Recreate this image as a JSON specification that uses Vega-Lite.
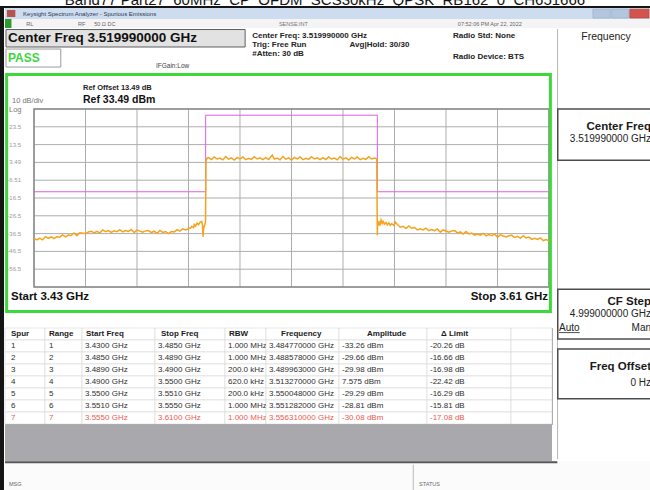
{
"$schema": "https://vega.github.io/schema/vega-lite/v6.json",
"padding": 0,
"background": "#ffffff",
"spacing": 0,
"config": {
  "font": "Liberation Sans",
  "view": {"stroke": null},
  "axis": {"disable": true},
  "legend": {"disable": true},
  "concat": {"spacing": 0},
  "text": {"baseline": "middle", "align": "left", "font": "Liberation Sans"}
},
"datasets": {
  "trace": [
    {"f":3.430,"db":-39.1},{"f":3.431,"db":-40.05},{"f":3.432,"db":-39.1},{"f":3.433,"db":-40.05},{"f":3.434,"db":-38.2},
    {"f":3.435,"db":-39.15},{"f":3.436,"db":-38.4},{"f":3.437,"db":-39.28},{"f":3.438,"db":-38.27},{"f":3.439,"db":-38.55},
    {"f":3.440,"db":-37.23},{"f":3.441,"db":-38.32},{"f":3.442,"db":-37.3},{"f":3.443,"db":-37.55},{"f":3.444,"db":-36.2},
    {"f":3.445,"db":-37.65},{"f":3.446,"db":-36.0},{"f":3.447,"db":-36.25},{"f":3.448,"db":-36.5},{"f":3.449,"db":-35.58},
    {"f":3.450,"db":-35.16},{"f":3.451,"db":-36.14},{"f":3.452,"db":-35.22},{"f":3.453,"db":-36.2},{"f":3.454,"db":-34.43},
    {"f":3.455,"db":-35.47},{"f":3.456,"db":-34.8},{"f":3.457,"db":-35.83},{"f":3.458,"db":-34.97},{"f":3.459,"db":-35.4},
    {"f":3.460,"db":-34.3},{"f":3.461,"db":-35.6},{"f":3.462,"db":-34.8},{"f":3.463,"db":-35.3},{"f":3.464,"db":-34.2},
    {"f":3.465,"db":-35.9},{"f":3.466,"db":-34.57},{"f":3.467,"db":-35.13},{"f":3.468,"db":-35.7},{"f":3.469,"db":-34.97},
    {"f":3.470,"db":-34.73},{"f":3.471,"db":-35.9},{"f":3.472,"db":-35.17},{"f":3.473,"db":-36.33},{"f":3.474,"db":-34.7},
    {"f":3.475,"db":-35.87},{"f":3.476,"db":-35.33},{"f":3.477,"db":-36.5},{"f":3.478,"db":-35.4},{"f":3.479,"db":-35.65},
    {"f":3.480,"db":-34.3},{"f":3.481,"db":-35.1},{"f":3.482,"db":-33.8},{"f":3.483,"db":-34.4},{"f":3.484,"db":-33.8},
    {"f":3.4848,"db":-33.26},{"f":3.4852,"db":-32.4},{"f":3.4858,"db":-33.1},{"f":3.486,"db":-31.4},{"f":3.4865,"db":-32.3},
    {"f":3.487,"db":-30.6},{"f":3.4875,"db":-31.5},{"f":3.488,"db":-30.2},{"f":3.4886,"db":-29.66},{"f":3.4889,"db":-31.8},
    {"f":3.4891,"db":-38.3},{"f":3.4893,"db":-33.5},{"f":3.48996,"db":-29.98},
    {"f":3.4901,"db":4.2},{"f":3.4905,"db":5.9},{"f":3.491,"db":6.2},{"f":3.492,"db":5.1},{"f":3.493,"db":6.6},
    {"f":3.494,"db":5.4},{"f":3.495,"db":5.9},{"f":3.496,"db":4.9},{"f":3.497,"db":6.8},{"f":3.498,"db":5.3},
    {"f":3.499,"db":6.0},{"f":3.500,"db":4.8},{"f":3.501,"db":6.3},{"f":3.502,"db":5.5},{"f":3.503,"db":6.5},
    {"f":3.504,"db":5.0},{"f":3.505,"db":5.8},{"f":3.506,"db":5.2},{"f":3.507,"db":6.7},{"f":3.508,"db":5.4},
    {"f":3.509,"db":6.1},{"f":3.510,"db":5.1},{"f":3.511,"db":6.2},{"f":3.512,"db":5.1},{"f":3.51327,"db":7.575},
    {"f":3.514,"db":5.4},{"f":3.515,"db":5.9},{"f":3.516,"db":4.9},{"f":3.517,"db":6.8},{"f":3.518,"db":5.3},
    {"f":3.519,"db":6.0},{"f":3.520,"db":4.8},{"f":3.521,"db":6.3},{"f":3.522,"db":5.5},{"f":3.523,"db":6.5},
    {"f":3.524,"db":5.0},{"f":3.525,"db":5.8},{"f":3.526,"db":5.2},{"f":3.527,"db":6.7},{"f":3.528,"db":5.4},
    {"f":3.529,"db":6.1},{"f":3.530,"db":5.1},{"f":3.531,"db":6.2},{"f":3.532,"db":5.1},{"f":3.533,"db":6.6},
    {"f":3.534,"db":5.4},{"f":3.535,"db":5.9},{"f":3.536,"db":4.9},{"f":3.537,"db":6.8},{"f":3.538,"db":5.3},
    {"f":3.539,"db":6.0},{"f":3.540,"db":4.8},{"f":3.541,"db":6.3},{"f":3.542,"db":5.5},{"f":3.543,"db":6.5},
    {"f":3.544,"db":5.0},{"f":3.545,"db":5.8},{"f":3.546,"db":5.2},{"f":3.547,"db":6.7},{"f":3.548,"db":5.4},
    {"f":3.549,"db":6.0},{"f":3.5498,"db":5.5},
    {"f":3.5500,"db":-37.5},{"f":3.55005,"db":-29.29},{"f":3.5503,"db":-31.5},{"f":3.5506,"db":-30.2},{"f":3.5509,"db":-32.0},
    {"f":3.5513,"db":-28.81},{"f":3.5517,"db":-30.8},{"f":3.552,"db":-29.6},{"f":3.5525,"db":-31.2},{"f":3.553,"db":-30.3},
    {"f":3.5535,"db":-31.6},{"f":3.554,"db":-30.5},{"f":3.5545,"db":-31.8},{"f":3.555,"db":-31.0},{"f":3.5558,"db":-31.9},
    {"f":3.5563,"db":-30.08},
    {"f":3.557,"db":-31.4},{"f":3.558,"db":-32.9},{"f":3.559,"db":-32.4},{"f":3.560,"db":-33.7},{"f":3.561,"db":-32.2},
    {"f":3.562,"db":-33.5},{"f":3.563,"db":-33.1},{"f":3.564,"db":-34.4},{"f":3.565,"db":-33.8},{"f":3.566,"db":-34.4},
    {"f":3.567,"db":-33.45},{"f":3.568,"db":-34.9},{"f":3.569,"db":-34.2},{"f":3.570,"db":-34.85},{"f":3.571,"db":-33.9},
    {"f":3.572,"db":-35.7},{"f":3.573,"db":-34.45},{"f":3.574,"db":-35.05},{"f":3.575,"db":-35.7},{"f":3.576,"db":-35.0},
    {"f":3.577,"db":-34.8},{"f":3.578,"db":-36.1},{"f":3.579,"db":-35.5},{"f":3.580,"db":-36.8},{"f":3.581,"db":-35.3},
    {"f":3.582,"db":-36.65},{"f":3.583,"db":-36.2},{"f":3.584,"db":-37.4},{"f":3.585,"db":-36.75},{"f":3.586,"db":-37.35},
    {"f":3.587,"db":-36.35},{"f":3.588,"db":-37.8},{"f":3.589,"db":-37.1},{"f":3.590,"db":-37.7},{"f":3.591,"db":-36.7},
    {"f":3.592,"db":-38.5},{"f":3.593,"db":-37.2},{"f":3.594,"db":-37.85},{"f":3.595,"db":-38.45},{"f":3.596,"db":-37.75},
    {"f":3.597,"db":-37.5},{"f":3.598,"db":-38.7},{"f":3.599,"db":-38.0},{"f":3.600,"db":-39.2},{"f":3.601,"db":-37.65},
    {"f":3.602,"db":-38.9},{"f":3.603,"db":-38.5},{"f":3.604,"db":-39.75},{"f":3.605,"db":-39.1},{"f":3.606,"db":-39.8},
    {"f":3.607,"db":-38.9},{"f":3.608,"db":-40.4},{"f":3.609,"db":-39.8},{"f":3.610,"db":-40.5}
  ],
  "limit": [
    {"i":0,"f":3.43,"db":-13},{"i":1,"f":3.49,"db":-13},{"i":2,"f":3.49,"db":30},
    {"i":3,"f":3.55,"db":30},{"i":4,"f":3.55,"db":-13},{"i":5,"f":3.61,"db":-13}
  ],
  "hgrid": [
    {"db":33.49,"label":""},{"db":23.49,"label":"23.5"},{"db":13.49,"label":"13.5"},{"db":3.49,"label":"3.49"},
    {"db":-6.51,"label":"-6.51"},{"db":-16.51,"label":"-16.5"},{"db":-26.51,"label":"-26.5"},{"db":-36.51,"label":"-36.5"},
    {"db":-46.51,"label":"-46.5"},{"db":-56.51,"label":"-56.5"},{"db":-66.51,"label":""}
  ],
  "vgrid": [
    {"f":3.430},{"f":3.448},{"f":3.466},{"f":3.484},{"f":3.502},{"f":3.520},
    {"f":3.538},{"f":3.556},{"f":3.574},{"f":3.592},{"f":3.610}
  ],
  "spurs": [
    {"row":"h","spur":"Spur","range":"Range","start":"Start Freq","stop":"Stop Freq","rbw":"RBW","freq":"Frequency","amp":"Amplitude","dlim":"Δ Limit"},
    {"row":"1","spur":"1","range":"1","start":"3.4300 GHz","stop":"3.4850 GHz","rbw":"1.000 MHz","freq":"3.484770000 GHz","amp":"-33.26 dBm","dlim":"-20.26 dB"},
    {"row":"2","spur":"2","range":"2","start":"3.4850 GHz","stop":"3.4890 GHz","rbw":"1.000 MHz","freq":"3.488578000 GHz","amp":"-29.66 dBm","dlim":"-16.66 dB"},
    {"row":"3","spur":"3","range":"3","start":"3.4890 GHz","stop":"3.4900 GHz","rbw":"200.0 kHz","freq":"3.489963000 GHz","amp":"-29.98 dBm","dlim":"-16.98 dB"},
    {"row":"4","spur":"4","range":"4","start":"3.4900 GHz","stop":"3.5500 GHz","rbw":"620.0 kHz","freq":"3.513270000 GHz","amp":"7.575 dBm","dlim":"-22.42 dB"},
    {"row":"5","spur":"5","range":"5","start":"3.5500 GHz","stop":"3.5510 GHz","rbw":"200.0 kHz","freq":"3.550048000 GHz","amp":"-29.29 dBm","dlim":"-16.29 dB"},
    {"row":"6","spur":"6","range":"6","start":"3.5510 GHz","stop":"3.5550 GHz","rbw":"1.000 MHz","freq":"3.551282000 GHz","amp":"-28.81 dBm","dlim":"-15.81 dB"},
    {"row":"7","spur":"7","range":"7","start":"3.5550 GHz","stop":"3.6100 GHz","rbw":"1.000 MHz","freq":"3.556310000 GHz","amp":"-30.08 dBm","dlim":"-17.08 dB"}
  ]
},
"vconcat": [
  {"width":650,"height":6,"view":{"fill":"#ffffff"},
   "data":{"values":[{"t":"Band77 Part27_60MHz_CP_OFDM_SCS30kHz_QPSK_RB162_0_CH651666"}]},
   "mark":{"type":"text","align":"center","baseline":"alphabetic","fontSize":15,"color":"#111111","dy":2,"clip":true},
   "encoding":{"text":{"field":"t"}}},
  {"width":650,"height":2,"view":{"fill":"#151515"},
   "data":{"values":[{}]},"mark":{"type":"point","opacity":0,"size":0,"strokeWidth":0},"encoding":{}},
  {"spacing":0,"hconcat":[
    {"width":4,"height":482,"view":{"fill":"#151515"},
     "data":{"values":[{}]},"mark":{"type":"point","opacity":0,"size":0,"strokeWidth":0},"encoding":{}},
    {"spacing":0,"vconcat":[
      {"width":646,"height":11,"view":{"fill":"#cddcee"},
       "layer":[
        {"data":{"values":[{}]},"mark":{"type":"rect","fill":"#b8524e"},
         "encoding":{"x":{"datum":0.3,"type":"quantitative","scale":{"domain":[0,100],"nice":false,"zero":false}},"x2":{"datum":1.6},
                     "y":{"datum":18,"type":"quantitative","scale":{"domain":[0,100],"nice":false,"zero":false,"reverse":true}},"y2":{"datum":82}}},
        {"data":{"values":[{"t":"Keysight Spectrum Analyzer - Spurious Emissions"}]},"mark":{"type":"text","fontSize":6,"color":"#2b3a52"},
         "encoding":{"text":{"field":"t"},"x":{"datum":2.8,"type":"quantitative","scale":{"domain":[0,100],"nice":false,"zero":false}},
                     "y":{"datum":50,"type":"quantitative","scale":{"domain":[0,100],"nice":false,"zero":false,"reverse":true}}}},
        {"data":{"values":[{}]},"mark":{"type":"rect","fill":"#b3c6de","stroke":"#8ea6c4","strokeWidth":0.5},
         "encoding":{"x":{"datum":91,"type":"quantitative","scale":{"domain":[0,100],"nice":false,"zero":false}},"x2":{"datum":93.7},
                     "y":{"datum":10,"type":"quantitative","scale":{"domain":[0,100],"nice":false,"zero":false,"reverse":true}},"y2":{"datum":92}}},
        {"data":{"values":[{}]},"mark":{"type":"rect","fill":"#b3c6de","stroke":"#8ea6c4","strokeWidth":0.5},
         "encoding":{"x":{"datum":93.9,"type":"quantitative","scale":{"domain":[0,100],"nice":false,"zero":false}},"x2":{"datum":96.5},
                     "y":{"datum":10,"type":"quantitative","scale":{"domain":[0,100],"nice":false,"zero":false,"reverse":true}},"y2":{"datum":92}}},
        {"data":{"values":[{}]},"mark":{"type":"rect","fill":"#d2544c","stroke":"#a9443d","strokeWidth":0.5},
         "encoding":{"x":{"datum":96.7,"type":"quantitative","scale":{"domain":[0,100],"nice":false,"zero":false}},"x2":{"datum":99.7},
                     "y":{"datum":10,"type":"quantitative","scale":{"domain":[0,100],"nice":false,"zero":false,"reverse":true}},"y2":{"datum":92}}}
       ]},
      {"width":646,"height":9,"view":{"fill":"#f4f4f4"},
       "layer":[
        {"data":{"values":[{}]},"mark":{"type":"rect","fill":"#2e9b2e"},
         "encoding":{"x":{"datum":0,"type":"quantitative","scale":{"domain":[0,100],"nice":false,"zero":false}},"x2":{"datum":1.0},
                     "y":{"datum":0,"type":"quantitative","scale":{"domain":[0,100],"nice":false,"zero":false,"reverse":true}},"y2":{"datum":100}}},
        {"data":{"values":[{"t":"RL"}]},"mark":{"type":"text","fontSize":5.5,"color":"#666666"},
         "encoding":{"text":{"field":"t"},"x":{"datum":3.3,"type":"quantitative","scale":{"domain":[0,100],"nice":false,"zero":false}},
                     "y":{"datum":50,"type":"quantitative","scale":{"domain":[0,100],"nice":false,"zero":false,"reverse":true}}}},
        {"data":{"values":[{"t":"RF"}]},"mark":{"type":"text","fontSize":5.5,"color":"#666666"},
         "encoding":{"text":{"field":"t"},"x":{"datum":11.3,"type":"quantitative","scale":{"domain":[0,100],"nice":false,"zero":false}},
                     "y":{"datum":50,"type":"quantitative","scale":{"domain":[0,100],"nice":false,"zero":false,"reverse":true}}}},
        {"data":{"values":[{"t":"50 Ω    DC"}]},"mark":{"type":"text","fontSize":5.5,"color":"#666666"},
         "encoding":{"text":{"field":"t"},"x":{"datum":13.8,"type":"quantitative","scale":{"domain":[0,100],"nice":false,"zero":false}},
                     "y":{"datum":50,"type":"quantitative","scale":{"domain":[0,100],"nice":false,"zero":false,"reverse":true}}}},
        {"data":{"values":[{"t":"SENSE:INT"}]},"mark":{"type":"text","fontSize":5.5,"color":"#777777"},
         "encoding":{"text":{"field":"t"},"x":{"datum":42.4,"type":"quantitative","scale":{"domain":[0,100],"nice":false,"zero":false}},
                     "y":{"datum":50,"type":"quantitative","scale":{"domain":[0,100],"nice":false,"zero":false,"reverse":true}}}},
        {"data":{"values":[{"t":"07:52:06 PM Apr 22, 2022"}]},"mark":{"type":"text","fontSize":5.5,"color":"#666666"},
         "encoding":{"text":{"field":"t"},"x":{"datum":70.1,"type":"quantitative","scale":{"domain":[0,100],"nice":false,"zero":false}},
                     "y":{"datum":50,"type":"quantitative","scale":{"domain":[0,100],"nice":false,"zero":false,"reverse":true}}}}
       ]},
      {"spacing":4,"hconcat":[
        {"spacing":0,"vconcat":[
          {"width":547,"height":44,"view":{"fill":"#ffffff"},
           "layer":[
            {"data":{"values":[{}]},"mark":{"type":"rect","fill":"#e2e2e2","stroke":"#5e5e5e","strokeWidth":1},
             "encoding":{"x":{"datum":0.18,"type":"quantitative","scale":{"domain":[0,100],"nice":false,"zero":false}},"x2":{"datum":43.9},
                         "y":{"datum":1.2,"type":"quantitative","scale":{"domain":[0,100],"nice":false,"zero":false,"reverse":true}},"y2":{"datum":40.9}}},
            {"data":{"values":[{"t":"Center Freq 3.519990000 GHz"}]},"mark":{"type":"text","fontSize":13.5,"fontWeight":"bold","color":"#111111"},
             "encoding":{"text":{"field":"t"},"x":{"datum":0.55,"type":"quantitative","scale":{"domain":[0,100],"nice":false,"zero":false}},
                         "y":{"datum":20.5,"type":"quantitative","scale":{"domain":[0,100],"nice":false,"zero":false,"reverse":true}}}},
            {"data":{"values":[{}]},"mark":{"type":"rect","fill":"#ffffff","stroke":"#9b9b9b","strokeWidth":1},
             "encoding":{"x":{"datum":0.18,"type":"quantitative","scale":{"domain":[0,100],"nice":false,"zero":false}},"x2":{"datum":10.2},
                         "y":{"datum":45.5,"type":"quantitative","scale":{"domain":[0,100],"nice":false,"zero":false,"reverse":true}},"y2":{"datum":86.4}}},
            {"data":{"values":[{"t":"PASS"}]},"mark":{"type":"text","fontSize":12,"fontWeight":"bold","color":"#3ed63e"},
             "encoding":{"text":{"field":"t"},"x":{"datum":0.55,"type":"quantitative","scale":{"domain":[0,100],"nice":false,"zero":false}},
                         "y":{"datum":65.9,"type":"quantitative","scale":{"domain":[0,100],"nice":false,"zero":false,"reverse":true}}}},
            {"data":{"values":[{"t":"IFGain:Low"}]},"mark":{"type":"text","fontSize":6.5,"color":"#444444"},
             "encoding":{"text":{"field":"t"},"x":{"datum":27.6,"type":"quantitative","scale":{"domain":[0,100],"nice":false,"zero":false}},
                         "y":{"datum":84,"type":"quantitative","scale":{"domain":[0,100],"nice":false,"zero":false,"reverse":true}}}},
            {"data":{"values":[{"t":"Center Freq: 3.519990000 GHz"}]},"mark":{"type":"text","fontSize":8,"fontWeight":"bold","color":"#222222"},
             "encoding":{"text":{"field":"t"},"x":{"datum":45.2,"type":"quantitative","scale":{"domain":[0,100],"nice":false,"zero":false}},
                         "y":{"datum":15.9,"type":"quantitative","scale":{"domain":[0,100],"nice":false,"zero":false,"reverse":true}}}},
            {"data":{"values":[{"t":"Trig: Free Run"}]},"mark":{"type":"text","fontSize":8,"fontWeight":"bold","color":"#222222"},
             "encoding":{"text":{"field":"t"},"x":{"datum":45.2,"type":"quantitative","scale":{"domain":[0,100],"nice":false,"zero":false}},
                         "y":{"datum":36.4,"type":"quantitative","scale":{"domain":[0,100],"nice":false,"zero":false,"reverse":true}}}},
            {"data":{"values":[{"t":"#Atten: 30 dB"}]},"mark":{"type":"text","fontSize":8,"fontWeight":"bold","color":"#222222"},
             "encoding":{"text":{"field":"t"},"x":{"datum":45.2,"type":"quantitative","scale":{"domain":[0,100],"nice":false,"zero":false}},
                         "y":{"datum":56.8,"type":"quantitative","scale":{"domain":[0,100],"nice":false,"zero":false,"reverse":true}}}},
            {"data":{"values":[{"t":"Avg|Hold: 30/30"}]},"mark":{"type":"text","fontSize":8,"fontWeight":"bold","color":"#222222"},
             "encoding":{"text":{"field":"t"},"x":{"datum":63,"type":"quantitative","scale":{"domain":[0,100],"nice":false,"zero":false}},
                         "y":{"datum":36.4,"type":"quantitative","scale":{"domain":[0,100],"nice":false,"zero":false,"reverse":true}}}},
            {"data":{"values":[{"t":"Radio Std: None"}]},"mark":{"type":"text","fontSize":8,"fontWeight":"bold","color":"#222222"},
             "encoding":{"text":{"field":"t"},"x":{"datum":81.9,"type":"quantitative","scale":{"domain":[0,100],"nice":false,"zero":false}},
                         "y":{"datum":15.9,"type":"quantitative","scale":{"domain":[0,100],"nice":false,"zero":false,"reverse":true}}}},
            {"data":{"values":[{"t":"Radio Device: BTS"}]},"mark":{"type":"text","fontSize":8,"fontWeight":"bold","color":"#222222"},
             "encoding":{"text":{"field":"t"},"x":{"datum":81.9,"type":"quantitative","scale":{"domain":[0,100],"nice":false,"zero":false}},
                         "y":{"datum":63.6,"type":"quantitative","scale":{"domain":[0,100],"nice":false,"zero":false,"reverse":true}}}}
           ]},
          {"width":547,"height":240,"view":{"fill":"#ffffff"},
           "layer":[
            {"data":{"name":"hgrid"},"mark":{"type":"rule","color":"#adadad","strokeWidth":1},
             "encoding":{"y":{"field":"db","type":"quantitative","scale":{"domain":[-81.117,53.715],"nice":false,"zero":false}},
                         "x":{"datum":3.43,"type":"quantitative","scale":{"domain":[3.419864,3.611049],"nice":false,"zero":false}},"x2":{"datum":3.61}}},
            {"data":{"name":"vgrid"},"mark":{"type":"rule","color":"#adadad","strokeWidth":1},
             "encoding":{"x":{"field":"f","type":"quantitative","scale":{"domain":[3.419864,3.611049],"nice":false,"zero":false}},
                         "y":{"datum":33.49,"type":"quantitative","scale":{"domain":[-81.117,53.715],"nice":false,"zero":false}},"y2":{"datum":-66.51}}},
            {"data":{"values":[{}]},"mark":{"type":"rect","fillOpacity":0,"stroke":"#8a8a8a","strokeWidth":1.5},
             "encoding":{"x":{"datum":3.43,"type":"quantitative","scale":{"domain":[3.419864,3.611049],"nice":false,"zero":false}},"x2":{"datum":3.61},
                         "y":{"datum":33.49,"type":"quantitative","scale":{"domain":[-81.117,53.715],"nice":false,"zero":false}},"y2":{"datum":-66.51}}},
            {"data":{"values":[{}]},"mark":{"type":"rect","fillOpacity":0,"stroke":"#3cd83c","strokeWidth":3,"clip":true},
             "encoding":{"x":{"datum":3.42043,"type":"quantitative","scale":{"domain":[3.419864,3.611049],"nice":false,"zero":false}},"x2":{"datum":3.610483},
                         "y":{"datum":52.87,"type":"quantitative","scale":{"domain":[-81.117,53.715],"nice":false,"zero":false}},"y2":{"datum":-80.27}}},
            {"data":{"name":"limit"},"mark":{"type":"line","color":"#e05ce6","strokeWidth":1},
             "encoding":{"x":{"field":"f","type":"quantitative","scale":{"domain":[3.419864,3.611049],"nice":false,"zero":false}},
                         "y":{"field":"db","type":"quantitative","scale":{"domain":[-81.117,53.715],"nice":false,"zero":false}},
                         "order":{"field":"i","type":"quantitative"}}},
            {"data":{"name":"trace"},"mark":{"type":"line","color":"#f5a21c","strokeWidth":1.5},
             "encoding":{"x":{"field":"f","type":"quantitative","scale":{"domain":[3.419864,3.611049],"nice":false,"zero":false}},
                         "y":{"field":"db","type":"quantitative","scale":{"domain":[-81.117,53.715],"nice":false,"zero":false}}}},
            {"data":{"name":"hgrid"},"transform":[{"filter":"datum.label != ''"}],
             "mark":{"type":"text","align":"right","dx":-13,"fontSize":6,"color":"#9a9a9a"},
             "encoding":{"text":{"field":"label"},
                         "y":{"field":"db","type":"quantitative","scale":{"domain":[-81.117,53.715],"nice":false,"zero":false}},
                         "x":{"datum":3.43,"type":"quantitative","scale":{"domain":[3.419864,3.611049],"nice":false,"zero":false}}}},
            {"data":{"values":[{"t":"Ref Offset 13.49 dB"}]},"mark":{"type":"text","fontSize":7.5,"fontWeight":"bold","color":"#222222"},
             "encoding":{"text":{"field":"t"},"x":{"datum":3.447126,"type":"quantitative","scale":{"domain":[3.419864,3.611049],"nice":false,"zero":false}},
                         "y":{"datum":45.29,"type":"quantitative","scale":{"domain":[-81.117,53.715],"nice":false,"zero":false}}}},
            {"data":{"values":[{"t":"Ref 33.49 dBm"}]},"mark":{"type":"text","fontSize":10.5,"fontWeight":"bold","color":"#111111"},
             "encoding":{"text":{"field":"t"},"x":{"datum":3.447126,"type":"quantitative","scale":{"domain":[3.419864,3.611049],"nice":false,"zero":false}},
                         "y":{"datum":38.55,"type":"quantitative","scale":{"domain":[-81.117,53.715],"nice":false,"zero":false}}}},
            {"data":{"values":[{"t":"10 dB/div"}]},"mark":{"type":"text","fontSize":7.5,"color":"#777777"},
             "encoding":{"text":{"field":"t"},"x":{"datum":3.422311,"type":"quantitative","scale":{"domain":[3.419864,3.611049],"nice":false,"zero":false}},
                         "y":{"datum":37.98,"type":"quantitative","scale":{"domain":[-81.117,53.715],"nice":false,"zero":false}}}},
            {"data":{"values":[{"t":"Log"}]},"mark":{"type":"text","fontSize":7.5,"color":"#777777"},
             "encoding":{"text":{"field":"t"},"x":{"datum":3.421262,"type":"quantitative","scale":{"domain":[3.419864,3.611049],"nice":false,"zero":false}},
                         "y":{"datum":33.0,"type":"quantitative","scale":{"domain":[-81.117,53.715],"nice":false,"zero":false}}}},
            {"data":{"values":[{"t":"Start  3.43 GHz"}]},"mark":{"type":"text","fontSize":11.5,"fontWeight":"bold","color":"#111111"},
             "encoding":{"text":{"field":"t"},"x":{"datum":3.421961,"type":"quantitative","scale":{"domain":[3.419864,3.611049],"nice":false,"zero":false}},
                         "y":{"datum":-72.13,"type":"quantitative","scale":{"domain":[-81.117,53.715],"nice":false,"zero":false}}}},
            {"data":{"values":[{"t":"Stop 3.61 GHz"}]},"mark":{"type":"text","align":"right","fontSize":11.5,"fontWeight":"bold","color":"#111111"},
             "encoding":{"text":{"field":"t"},"x":{"datum":3.609651,"type":"quantitative","scale":{"domain":[3.419864,3.611049],"nice":false,"zero":false}},
                         "y":{"datum":-72.13,"type":"quantitative","scale":{"domain":[-81.117,53.715],"nice":false,"zero":false}}}}
           ]},
          {"width":547,"height":14,"view":{"fill":"#ffffff"},
           "data":{"values":[{}]},"mark":{"type":"point","opacity":0,"size":0,"strokeWidth":0},"encoding":{}},
          {"spacing":0,"bounds":"flush","hconcat":[
            {"width":40,"height":96,"data":{"name":"spurs"},"view":{"stroke":"#9a9a9a","strokeWidth":1,"fill":"#ffffff"},
             "layer":[
              {"mark":{"type":"rect","fill":"#ffffff","stroke":"#d6d6d6","strokeWidth":0.6},
               "encoding":{"y":{"field":"row","type":"nominal","scale":{"domain":["h","1","2","3","4","5","6","7"],"paddingInner":0,"paddingOuter":0}},
                           "x":{"datum":0,"type":"quantitative","scale":{"domain":[0,100],"nice":false,"zero":false}},"x2":{"datum":100}}},
              {"transform":[{"filter":"datum.row === 'h'"}],"mark":{"type":"text","fontSize":8,"fontWeight":"bold","color":"#1a1a1a","dx":6},
               "encoding":{"y":{"field":"row","type":"nominal","scale":{"domain":["h","1","2","3","4","5","6","7"],"paddingInner":0,"paddingOuter":0}},
                           "x":{"datum":0,"type":"quantitative","scale":{"domain":[0,100],"nice":false,"zero":false}},"text":{"field":"spur"}}},
              {"transform":[{"filter":"datum.row !== 'h'"}],"mark":{"type":"text","fontSize":8,"dx":6},
               "encoding":{"y":{"field":"row","type":"nominal","scale":{"domain":["h","1","2","3","4","5","6","7"],"paddingInner":0,"paddingOuter":0}},
                           "x":{"datum":0,"type":"quantitative","scale":{"domain":[0,100],"nice":false,"zero":false}},"text":{"field":"spur"},
                           "color":{"condition":{"test":"datum.row === '7'","value":"#ef5a4f"},"value":"#2e2e2e"}}}
             ]},
            {"width":37,"height":96,"data":{"name":"spurs"},"view":{"stroke":"#9a9a9a","strokeWidth":1,"fill":"#ffffff"},
             "layer":[
              {"mark":{"type":"rect","fill":"#ffffff","stroke":"#d6d6d6","strokeWidth":0.6},
               "encoding":{"y":{"field":"row","type":"nominal","scale":{"domain":["h","1","2","3","4","5","6","7"],"paddingInner":0,"paddingOuter":0}},
                           "x":{"datum":0,"type":"quantitative","scale":{"domain":[0,100],"nice":false,"zero":false}},"x2":{"datum":100}}},
              {"transform":[{"filter":"datum.row === 'h'"}],"mark":{"type":"text","fontSize":8,"fontWeight":"bold","color":"#1a1a1a","dx":4},
               "encoding":{"y":{"field":"row","type":"nominal","scale":{"domain":["h","1","2","3","4","5","6","7"],"paddingInner":0,"paddingOuter":0}},
                           "x":{"datum":0,"type":"quantitative","scale":{"domain":[0,100],"nice":false,"zero":false}},"text":{"field":"range"}}},
              {"transform":[{"filter":"datum.row !== 'h'"}],"mark":{"type":"text","fontSize":8,"dx":4},
               "encoding":{"y":{"field":"row","type":"nominal","scale":{"domain":["h","1","2","3","4","5","6","7"],"paddingInner":0,"paddingOuter":0}},
                           "x":{"datum":0,"type":"quantitative","scale":{"domain":[0,100],"nice":false,"zero":false}},"text":{"field":"range"},
                           "color":{"condition":{"test":"datum.row === '7'","value":"#ef5a4f"},"value":"#2e2e2e"}}}
             ]},
            {"width":73,"height":96,"data":{"name":"spurs"},"view":{"stroke":"#9a9a9a","strokeWidth":1,"fill":"#ffffff"},
             "layer":[
              {"mark":{"type":"rect","fill":"#ffffff","stroke":"#d6d6d6","strokeWidth":0.6},
               "encoding":{"y":{"field":"row","type":"nominal","scale":{"domain":["h","1","2","3","4","5","6","7"],"paddingInner":0,"paddingOuter":0}},
                           "x":{"datum":0,"type":"quantitative","scale":{"domain":[0,100],"nice":false,"zero":false}},"x2":{"datum":100}}},
              {"transform":[{"filter":"datum.row === 'h'"}],"mark":{"type":"text","fontSize":8,"fontWeight":"bold","color":"#1a1a1a","dx":4},
               "encoding":{"y":{"field":"row","type":"nominal","scale":{"domain":["h","1","2","3","4","5","6","7"],"paddingInner":0,"paddingOuter":0}},
                           "x":{"datum":0,"type":"quantitative","scale":{"domain":[0,100],"nice":false,"zero":false}},"text":{"field":"start"}}},
              {"transform":[{"filter":"datum.row !== 'h'"}],"mark":{"type":"text","fontSize":8,"dx":3},
               "encoding":{"y":{"field":"row","type":"nominal","scale":{"domain":["h","1","2","3","4","5","6","7"],"paddingInner":0,"paddingOuter":0}},
                           "x":{"datum":0,"type":"quantitative","scale":{"domain":[0,100],"nice":false,"zero":false}},"text":{"field":"start"},
                           "color":{"condition":{"test":"datum.row === '7'","value":"#ef5a4f"},"value":"#2e2e2e"}}}
             ]},
            {"width":70,"height":96,"data":{"name":"spurs"},"view":{"stroke":"#9a9a9a","strokeWidth":1,"fill":"#ffffff"},
             "layer":[
              {"mark":{"type":"rect","fill":"#ffffff","stroke":"#d6d6d6","strokeWidth":0.6},
               "encoding":{"y":{"field":"row","type":"nominal","scale":{"domain":["h","1","2","3","4","5","6","7"],"paddingInner":0,"paddingOuter":0}},
                           "x":{"datum":0,"type":"quantitative","scale":{"domain":[0,100],"nice":false,"zero":false}},"x2":{"datum":100}}},
              {"transform":[{"filter":"datum.row === 'h'"}],"mark":{"type":"text","fontSize":8,"fontWeight":"bold","color":"#1a1a1a","dx":6},
               "encoding":{"y":{"field":"row","type":"nominal","scale":{"domain":["h","1","2","3","4","5","6","7"],"paddingInner":0,"paddingOuter":0}},
                           "x":{"datum":0,"type":"quantitative","scale":{"domain":[0,100],"nice":false,"zero":false}},"text":{"field":"stop"}}},
              {"transform":[{"filter":"datum.row !== 'h'"}],"mark":{"type":"text","fontSize":8,"dx":3},
               "encoding":{"y":{"field":"row","type":"nominal","scale":{"domain":["h","1","2","3","4","5","6","7"],"paddingInner":0,"paddingOuter":0}},
                           "x":{"datum":0,"type":"quantitative","scale":{"domain":[0,100],"nice":false,"zero":false}},"text":{"field":"stop"},
                           "color":{"condition":{"test":"datum.row === '7'","value":"#ef5a4f"},"value":"#2e2e2e"}}}
             ]},
            {"width":41,"height":96,"data":{"name":"spurs"},"view":{"stroke":"#9a9a9a","strokeWidth":1,"fill":"#ffffff"},
             "layer":[
              {"mark":{"type":"rect","fill":"#ffffff","stroke":"#d6d6d6","strokeWidth":0.6},
               "encoding":{"y":{"field":"row","type":"nominal","scale":{"domain":["h","1","2","3","4","5","6","7"],"paddingInner":0,"paddingOuter":0}},
                           "x":{"datum":0,"type":"quantitative","scale":{"domain":[0,100],"nice":false,"zero":false}},"x2":{"datum":100}}},
              {"transform":[{"filter":"datum.row === 'h'"}],"mark":{"type":"text","fontSize":8,"fontWeight":"bold","color":"#1a1a1a","dx":4},
               "encoding":{"y":{"field":"row","type":"nominal","scale":{"domain":["h","1","2","3","4","5","6","7"],"paddingInner":0,"paddingOuter":0}},
                           "x":{"datum":0,"type":"quantitative","scale":{"domain":[0,100],"nice":false,"zero":false}},"text":{"field":"rbw"}}},
              {"transform":[{"filter":"datum.row !== 'h'"}],"mark":{"type":"text","fontSize":8,"dx":3},
               "encoding":{"y":{"field":"row","type":"nominal","scale":{"domain":["h","1","2","3","4","5","6","7"],"paddingInner":0,"paddingOuter":0}},
                           "x":{"datum":0,"type":"quantitative","scale":{"domain":[0,100],"nice":false,"zero":false}},"text":{"field":"rbw"},
                           "color":{"condition":{"test":"datum.row === '7'","value":"#ef5a4f"},"value":"#2e2e2e"}}}
             ]},
            {"width":73,"height":96,"data":{"name":"spurs"},"view":{"stroke":"#9a9a9a","strokeWidth":1,"fill":"#ffffff"},
             "layer":[
              {"mark":{"type":"rect","fill":"#ffffff","stroke":"#d6d6d6","strokeWidth":0.6},
               "encoding":{"y":{"field":"row","type":"nominal","scale":{"domain":["h","1","2","3","4","5","6","7"],"paddingInner":0,"paddingOuter":0}},
                           "x":{"datum":0,"type":"quantitative","scale":{"domain":[0,100],"nice":false,"zero":false}},"x2":{"datum":100}}},
              {"transform":[{"filter":"datum.row === 'h'"}],"mark":{"type":"text","fontSize":8,"fontWeight":"bold","color":"#1a1a1a","dx":15},
               "encoding":{"y":{"field":"row","type":"nominal","scale":{"domain":["h","1","2","3","4","5","6","7"],"paddingInner":0,"paddingOuter":0}},
                           "x":{"datum":0,"type":"quantitative","scale":{"domain":[0,100],"nice":false,"zero":false}},"text":{"field":"freq"}}},
              {"transform":[{"filter":"datum.row !== 'h'"}],"mark":{"type":"text","fontSize":8,"dx":3},
               "encoding":{"y":{"field":"row","type":"nominal","scale":{"domain":["h","1","2","3","4","5","6","7"],"paddingInner":0,"paddingOuter":0}},
                           "x":{"datum":0,"type":"quantitative","scale":{"domain":[0,100],"nice":false,"zero":false}},"text":{"field":"freq"},
                           "color":{"condition":{"test":"datum.row === '7'","value":"#ef5a4f"},"value":"#2e2e2e"}}}
             ]},
            {"width":88,"height":96,"data":{"name":"spurs"},"view":{"stroke":"#9a9a9a","strokeWidth":1,"fill":"#ffffff"},
             "layer":[
              {"mark":{"type":"rect","fill":"#ffffff","stroke":"#d6d6d6","strokeWidth":0.6},
               "encoding":{"y":{"field":"row","type":"nominal","scale":{"domain":["h","1","2","3","4","5","6","7"],"paddingInner":0,"paddingOuter":0}},
                           "x":{"datum":0,"type":"quantitative","scale":{"domain":[0,100],"nice":false,"zero":false}},"x2":{"datum":100}}},
              {"transform":[{"filter":"datum.row === 'h'"}],"mark":{"type":"text","fontSize":8,"fontWeight":"bold","color":"#1a1a1a","dx":28},
               "encoding":{"y":{"field":"row","type":"nominal","scale":{"domain":["h","1","2","3","4","5","6","7"],"paddingInner":0,"paddingOuter":0}},
                           "x":{"datum":0,"type":"quantitative","scale":{"domain":[0,100],"nice":false,"zero":false}},"text":{"field":"amp"}}},
              {"transform":[{"filter":"datum.row !== 'h'"}],"mark":{"type":"text","fontSize":8,"dx":3},
               "encoding":{"y":{"field":"row","type":"nominal","scale":{"domain":["h","1","2","3","4","5","6","7"],"paddingInner":0,"paddingOuter":0}},
                           "x":{"datum":0,"type":"quantitative","scale":{"domain":[0,100],"nice":false,"zero":false}},"text":{"field":"amp"},
                           "color":{"condition":{"test":"datum.row === '7'","value":"#ef5a4f"},"value":"#2e2e2e"}}}
             ]},
            {"width":84,"height":96,"data":{"name":"spurs"},"view":{"stroke":"#9a9a9a","strokeWidth":1,"fill":"#ffffff"},
             "layer":[
              {"mark":{"type":"rect","fill":"#ffffff","stroke":"#d6d6d6","strokeWidth":0.6},
               "encoding":{"y":{"field":"row","type":"nominal","scale":{"domain":["h","1","2","3","4","5","6","7"],"paddingInner":0,"paddingOuter":0}},
                           "x":{"datum":0,"type":"quantitative","scale":{"domain":[0,100],"nice":false,"zero":false}},"x2":{"datum":100}}},
              {"transform":[{"filter":"datum.row === 'h'"}],"mark":{"type":"text","fontSize":8,"fontWeight":"bold","color":"#1a1a1a","dx":14},
               "encoding":{"y":{"field":"row","type":"nominal","scale":{"domain":["h","1","2","3","4","5","6","7"],"paddingInner":0,"paddingOuter":0}},
                           "x":{"datum":0,"type":"quantitative","scale":{"domain":[0,100],"nice":false,"zero":false}},"text":{"field":"dlim"}}},
              {"transform":[{"filter":"datum.row !== 'h'"}],"mark":{"type":"text","fontSize":8,"dx":3},
               "encoding":{"y":{"field":"row","type":"nominal","scale":{"domain":["h","1","2","3","4","5","6","7"],"paddingInner":0,"paddingOuter":0}},
                           "x":{"datum":0,"type":"quantitative","scale":{"domain":[0,100],"nice":false,"zero":false}},"text":{"field":"dlim"},
                           "color":{"condition":{"test":"datum.row === '7'","value":"#ef5a4f"},"value":"#2e2e2e"}}}
             ]},
            {"width":41,"height":96,"data":{"name":"spurs"},"view":{"stroke":"#9a9a9a","strokeWidth":1,"fill":"#ffffff"},
             "mark":{"type":"rect","fill":"#ffffff","stroke":"#d6d6d6","strokeWidth":0.6},
             "encoding":{"y":{"field":"row","type":"nominal","scale":{"domain":["h","1","2","3","4","5","6","7"],"paddingInner":0,"paddingOuter":0}},
                         "x":{"datum":0,"type":"quantitative","scale":{"domain":[0,100],"nice":false,"zero":false}},"x2":{"datum":100}}}
          ]},
          {"width":547,"height":36,"view":{"fill":"#a9a8ad"},
           "data":{"values":[{}]},"mark":{"type":"point","opacity":0,"size":0,"strokeWidth":0},"encoding":{}}
        ]},
        {"width":95,"height":430,"view":{"fill":"#ffffff"},
         "layer":[
          {"data":{"values":[{}]},"mark":{"type":"rule","color":"#b5b5b5","strokeWidth":1},
           "encoding":{"x":{"datum":0.6,"type":"quantitative","scale":{"domain":[0,100],"nice":false,"zero":false}},
                       "y":{"datum":0,"type":"quantitative","scale":{"domain":[0,100],"nice":false,"zero":false,"reverse":true}},"y2":{"datum":100}}},
          {"data":{"values":[{"t":"Frequency"}]},"mark":{"type":"text","align":"center","fontSize":10.5,"color":"#222222"},
           "encoding":{"text":{"field":"t"},"x":{"datum":51.6,"type":"quantitative","scale":{"domain":[0,100],"nice":false,"zero":false}},
                       "y":{"datum":1.9,"type":"quantitative","scale":{"domain":[0,100],"nice":false,"zero":false,"reverse":true}}}},
          {"data":{"values":[{}]},"mark":{"type":"rect","fill":"#ffffff","stroke":"#4d4d4d","strokeWidth":1.5,"clip":true},
           "encoding":{"x":{"datum":0.8,"type":"quantitative","scale":{"domain":[0,100],"nice":false,"zero":false}},"x2":{"datum":102},
                       "y":{"datum":18.6,"type":"quantitative","scale":{"domain":[0,100],"nice":false,"zero":false,"reverse":true}},"y2":{"datum":30.5}}},
          {"data":{"values":[{"t":"Center Freq"}]},"mark":{"type":"text","align":"right","dx":-1,"fontSize":11.5,"fontWeight":"bold","color":"#1a1a1a"},
           "encoding":{"text":{"field":"t"},"x":{"datum":100,"type":"quantitative","scale":{"domain":[0,100],"nice":false,"zero":false}},
                       "y":{"datum":22.8,"type":"quantitative","scale":{"domain":[0,100],"nice":false,"zero":false,"reverse":true}}}},
          {"data":{"values":[{"t":"3.519990000 GHz"}]},"mark":{"type":"text","align":"right","dx":-1,"fontSize":10,"color":"#222222"},
           "encoding":{"text":{"field":"t"},"x":{"datum":100,"type":"quantitative","scale":{"domain":[0,100],"nice":false,"zero":false}},
                       "y":{"datum":25.6,"type":"quantitative","scale":{"domain":[0,100],"nice":false,"zero":false,"reverse":true}}}},
          {"data":{"values":[{}]},"mark":{"type":"rect","fill":"#ffffff","stroke":"#4d4d4d","strokeWidth":1.5,"clip":true},
           "encoding":{"x":{"datum":0.8,"type":"quantitative","scale":{"domain":[0,100],"nice":false,"zero":false}},"x2":{"datum":102},
                       "y":{"datum":60.5,"type":"quantitative","scale":{"domain":[0,100],"nice":false,"zero":false,"reverse":true}},"y2":{"datum":72.1}}},
          {"data":{"values":[{"t":"CF Step"}]},"mark":{"type":"text","align":"right","dx":-1,"fontSize":11.5,"fontWeight":"bold","color":"#1a1a1a"},
           "encoding":{"text":{"field":"t"},"x":{"datum":100,"type":"quantitative","scale":{"domain":[0,100],"nice":false,"zero":false}},
                       "y":{"datum":63.5,"type":"quantitative","scale":{"domain":[0,100],"nice":false,"zero":false,"reverse":true}}}},
          {"data":{"values":[{"t":"4.999000000 GHz"}]},"mark":{"type":"text","align":"right","dx":-1,"fontSize":10,"color":"#222222"},
           "encoding":{"text":{"field":"t"},"x":{"datum":100,"type":"quantitative","scale":{"domain":[0,100],"nice":false,"zero":false}},
                       "y":{"datum":66.3,"type":"quantitative","scale":{"domain":[0,100],"nice":false,"zero":false,"reverse":true}}}},
          {"data":{"values":[{"t":"Auto"}]},"mark":{"type":"text","fontSize":10,"color":"#222222"},
           "encoding":{"text":{"field":"t"},"x":{"datum":2.1,"type":"quantitative","scale":{"domain":[0,100],"nice":false,"zero":false}},
                       "y":{"datum":69.5,"type":"quantitative","scale":{"domain":[0,100],"nice":false,"zero":false,"reverse":true}}}},
          {"data":{"values":[{}]},"mark":{"type":"rule","color":"#222222","strokeWidth":0.8},
           "encoding":{"x":{"datum":2.1,"type":"quantitative","scale":{"domain":[0,100],"nice":false,"zero":false}},"x2":{"datum":24},
                       "y":{"datum":70.6,"type":"quantitative","scale":{"domain":[0,100],"nice":false,"zero":false,"reverse":true}}}},
          {"data":{"values":[{"t":"Man"}]},"mark":{"type":"text","align":"right","dx":-1,"fontSize":10,"color":"#222222"},
           "encoding":{"text":{"field":"t"},"x":{"datum":100,"type":"quantitative","scale":{"domain":[0,100],"nice":false,"zero":false}},
                       "y":{"datum":69.5,"type":"quantitative","scale":{"domain":[0,100],"nice":false,"zero":false,"reverse":true}}}},
          {"data":{"values":[{}]},"mark":{"type":"rect","fill":"#ffffff","stroke":"#4d4d4d","strokeWidth":1.5,"clip":true},
           "encoding":{"x":{"datum":0.8,"type":"quantitative","scale":{"domain":[0,100],"nice":false,"zero":false}},"x2":{"datum":102},
                       "y":{"datum":74.4,"type":"quantitative","scale":{"domain":[0,100],"nice":false,"zero":false,"reverse":true}},"y2":{"datum":86.0}}},
          {"data":{"values":[{"t":"Freq Offset"}]},"mark":{"type":"text","align":"right","dx":-1,"fontSize":11.5,"fontWeight":"bold","color":"#1a1a1a"},
           "encoding":{"text":{"field":"t"},"x":{"datum":100,"type":"quantitative","scale":{"domain":[0,100],"nice":false,"zero":false}},
                       "y":{"datum":78.6,"type":"quantitative","scale":{"domain":[0,100],"nice":false,"zero":false,"reverse":true}}}},
          {"data":{"values":[{"t":"0 Hz"}]},"mark":{"type":"text","align":"right","dx":-1,"fontSize":10,"color":"#222222"},
           "encoding":{"text":{"field":"t"},"x":{"datum":100,"type":"quantitative","scale":{"domain":[0,100],"nice":false,"zero":false}},
                       "y":{"datum":82.3,"type":"quantitative","scale":{"domain":[0,100],"nice":false,"zero":false,"reverse":true}}}}
         ]}
      ]},
      {"width":646,"height":32,"view":{"fill":"#fbfbfb"},
       "layer":[
        {"data":{"values":[{}]},"mark":{"type":"rule","color":"#555555","strokeWidth":2},
         "encoding":{"x":{"datum":0,"type":"quantitative","scale":{"domain":[0,100],"nice":false,"zero":false}},"x2":{"datum":85.5},
                     "y":{"datum":4,"type":"quantitative","scale":{"domain":[0,100],"nice":false,"zero":false,"reverse":true}}}},
        {"data":{"values":[{}]},"mark":{"type":"rule","color":"#bbbbbb","strokeWidth":1},
         "encoding":{"x":{"datum":63.2,"type":"quantitative","scale":{"domain":[0,100],"nice":false,"zero":false}},
                     "y":{"datum":12,"type":"quantitative","scale":{"domain":[0,100],"nice":false,"zero":false,"reverse":true}},"y2":{"datum":100}}},
        {"data":{"values":[{"t":"MSG"}]},"mark":{"type":"text","fontSize":5.5,"color":"#666666"},
         "encoding":{"text":{"field":"t"},"x":{"datum":0.6,"type":"quantitative","scale":{"domain":[0,100],"nice":false,"zero":false}},
                     "y":{"datum":72,"type":"quantitative","scale":{"domain":[0,100],"nice":false,"zero":false,"reverse":true}}}},
        {"data":{"values":[{"t":"STATUS"}]},"mark":{"type":"text","fontSize":5.5,"color":"#666666"},
         "encoding":{"text":{"field":"t"},"x":{"datum":64.1,"type":"quantitative","scale":{"domain":[0,100],"nice":false,"zero":false}},
                     "y":{"datum":72,"type":"quantitative","scale":{"domain":[0,100],"nice":false,"zero":false,"reverse":true}}}}
       ]}
    ]}
  ]}
]
}
